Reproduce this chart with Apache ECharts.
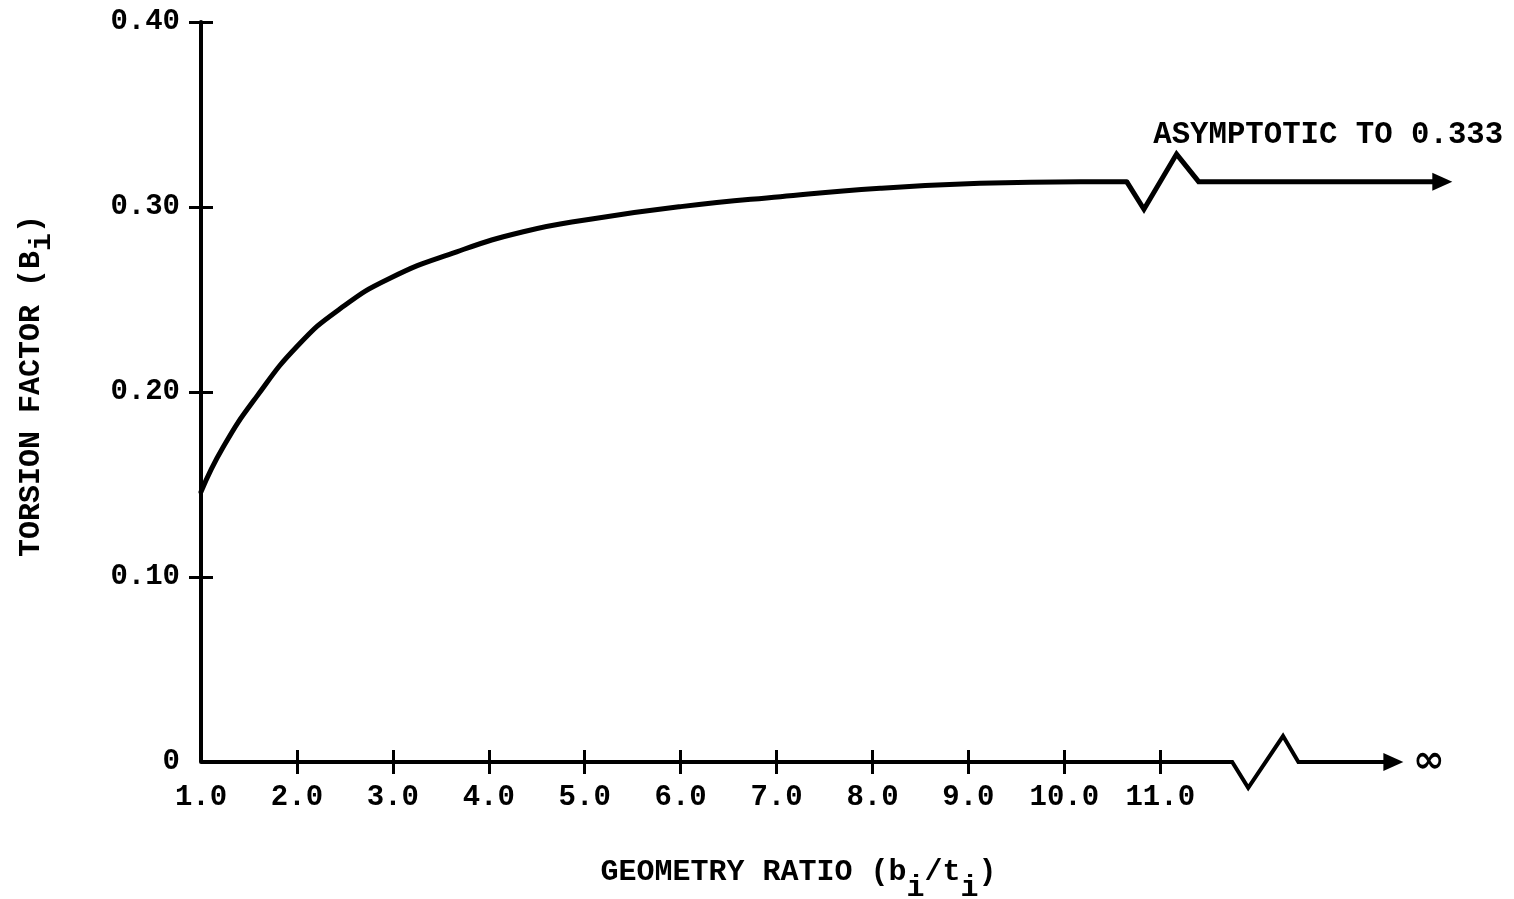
<!DOCTYPE html>
<html>
<head>
<meta charset="utf-8">
<script src="https://cdn.jsdelivr.net/npm/echarts@6/dist/echarts.min.js"></script>
<style>
html,body{margin:0;padding:0;background:#fff;}
#chart{width:1514px;height:899px;}
</style>
</head>
<body>
<div id="chart"></div>
<script>
// ---- data ----
const xTickValues = [1, 2, 3, 4, 5, 6, 7, 8, 9, 10, 11];
const xTickLabels = ['1.0', '2.0', '3.0', '4.0', '5.0', '6.0', '7.0', '8.0', '9.0', '10.0', '11.0'];
const yTickValues = [0, 0.1, 0.2, 0.3, 0.4];
const yTickLabels = ['0', '0.10', '0.20', '0.30', '0.40'];

// torsion factor curve (geometry ratio -> B_i)
const curveX = [1.0, 1.233, 1.58, 2.015, 2.45, 2.97, 3.666, 4.36, 5.056, 6.0, 7.04, 8.08, 9.12, 10.17, 10.65];
const curveY = [0.146, 0.1704, 0.1975, 0.2254, 0.2450, 0.2615, 0.2758, 0.2866, 0.2934, 0.3002, 0.3056, 0.3101, 0.3128, 0.3137, 0.3137];

// break symbol on the curve, then flat run to the arrow
const topBreakX = [10.65, 10.83, 11.17, 11.40, 13.94];
const topBreakY = [0.3137, 0.2988, 0.3286, 0.3137, 0.3137];
const topArrowAt = [13.94, 0.3137];

// base axis line with its break symbol, then run to the arrow (towards infinity)
const baseX = [1, 11.75, 11.917, 12.28, 12.44, 13.43];
const baseY = [0, 0, -0.0140, 0.0140, 0, 0];
const baseArrowAt = [13.43, 0];

const asymptoteText = 'ASYMPTOTIC TO 0.333';
const asymptoteAt = [10.927, 0.3390];
const infinityText = '\u221E';
const infinityAt = [13.80, 0];

const xTitleParts = ['GEOMETRY RATIO (b', 'i', '/t', 'i', ')'];
const yTitleParts = ['TORSION FACTOR (B', 'i', ')'];

// ---- chart ----
const FONT = '"Liberation Mono", "DejaVu Sans Mono", monospace';
const zip = (xs, ys) => xs.map((x, i) => [x, ys[i]]);
const richTitle = parts => parts.map((p, i) => (i % 2 === 0 ? '{t|' : '{s|') + p + '}').join('');

const chart = echarts.init(document.getElementById('chart'), null, {renderer: 'canvas'});

const tickStyle = {color: '#000', width: 3};
const X_MAX = 14.5;

const option = {
  backgroundColor: '#ffffff',
  animation: false,
  grid: {left: 201, right: 18, top: 22, bottom: 137, containLabel: false, outerBoundsMode: 'none'},
  xAxis: [
    {
      type: 'value', min: 1, max: X_MAX, interval: 1, position: 'bottom',
      axisLine: {show: false, onZero: false},
      axisTick: {show: true, inside: false, length: 12, lineStyle: tickStyle, customValues: xTickValues.slice(1)},
      axisLabel: {
        show: true, margin: 21, color: '#000', fontFamily: FONT, fontSize: 29, fontWeight: 'bold',
        customValues: xTickValues,
        formatter: v => xTickLabels[xTickValues.indexOf(v)]
      },
      splitLine: {show: false},
      name: richTitle(xTitleParts),
      nameLocation: 'middle',
      nameGap: 79,
      nameTextStyle: {
        padding: [0, 100, 0, 0],
        rich: {
          t: {fontFamily: FONT, fontSize: 30, fontWeight: 'bold', color: '#000'},
          s: {fontFamily: FONT, fontSize: 30, fontWeight: 'bold', color: '#000', padding: [32, 0, 0, 0]}
        }
      }
    },
    {
      type: 'value', min: 1, max: X_MAX, interval: 1, position: 'bottom',
      axisLine: {show: false, onZero: false},
      axisTick: {show: true, inside: true, length: 12, lineStyle: tickStyle, customValues: xTickValues.slice(1)},
      axisLabel: {show: false},
      splitLine: {show: false}
    }
  ],
  yAxis: [
    {
      type: 'value', min: 0, max: 0.4, interval: 0.1, position: 'left',
      axisLine: {show: true, onZero: false, lineStyle: {color: '#000', width: 4}},
      axisTick: {show: true, inside: false, length: 12, lineStyle: tickStyle, customValues: yTickValues.slice(1)},
      axisLabel: {
        show: true, margin: 21, color: '#000', fontFamily: FONT, fontSize: 29, fontWeight: 'bold',
        customValues: yTickValues,
        formatter: v => yTickLabels[yTickValues.indexOf(v)]
      },
      splitLine: {show: false},
      name: richTitle(yTitleParts),
      nameLocation: 'middle',
      nameGap: 144,
      nameTextStyle: {
        padding: [0, 0, 0, 12],
        rich: {
          t: {fontFamily: FONT, fontSize: 30, fontWeight: 'bold', color: '#000'},
          s: {fontFamily: FONT, fontSize: 30, fontWeight: 'bold', color: '#000', padding: [22, 0, 0, 0]}
        }
      }
    },
    {
      type: 'value', min: 0, max: 0.4, interval: 0.1, position: 'left',
      axisLine: {show: false, onZero: false},
      axisTick: {show: true, inside: true, length: 12, lineStyle: tickStyle, customValues: yTickValues.slice(1)},
      axisLabel: {show: false},
      splitLine: {show: false}
    }
  ],
  series: [
    {
      name: 'Torsion factor', type: 'line', xAxisIndex: 0, yAxisIndex: 0,
      data: zip(curveX, curveY), smooth: 0.5,
      showSymbol: false, symbol: 'none', clip: false, silent: true,
      lineStyle: {color: '#000', width: 5, cap: 'round', join: 'round'}
    },
    {
      name: 'Curve break', type: 'line', xAxisIndex: 0, yAxisIndex: 0,
      data: zip(topBreakX, topBreakY), smooth: false,
      showSymbol: false, symbol: 'none', clip: false, silent: true,
      lineStyle: {color: '#000', width: 5, join: 'miter'}
    },
    {
      name: 'Base axis', type: 'line', xAxisIndex: 0, yAxisIndex: 0,
      data: zip(baseX, baseY), smooth: false,
      showSymbol: false, symbol: 'none', clip: false, silent: true,
      lineStyle: {color: '#000', width: 4, join: 'miter'}
    },
    {
      name: 'Arrows', type: 'scatter', xAxisIndex: 0, yAxisIndex: 0,
      data: [topArrowAt, baseArrowAt], clip: false, silent: true,
      symbol: 'triangle', symbolRotate: -90, symbolSize: [18, 20],
      itemStyle: {color: '#000', opacity: 1}
    },
    {
      name: 'Notes', type: 'scatter', xAxisIndex: 0, yAxisIndex: 0,
      clip: false, silent: true, symbolSize: 0,
      itemStyle: {opacity: 1},
      data: [
        {value: asymptoteAt, label: {show: true, position: 'right', distance: 0, formatter: asymptoteText,
          fontFamily: FONT, fontSize: 30.7, fontWeight: 'bold', color: '#000'}},
        {value: infinityAt, label: {show: true, position: 'inside', formatter: infinityText,
          fontFamily: '"DejaVu Sans", sans-serif', fontSize: 38, fontWeight: 'bold', color: '#000'}}
      ]
    }
  ]
};
chart.setOption(option);
</script>
</body>
</html>
